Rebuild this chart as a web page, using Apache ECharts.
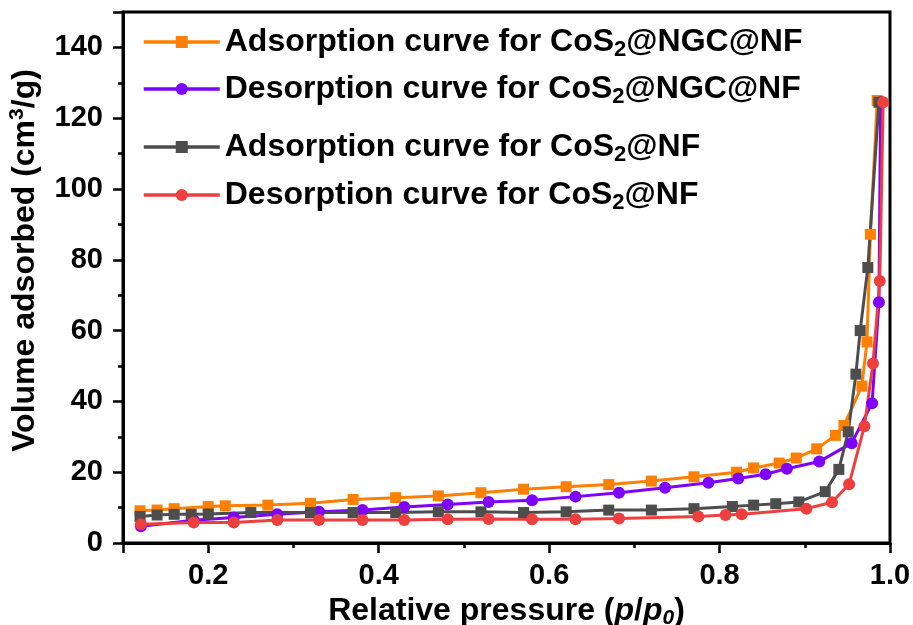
<!DOCTYPE html>
<html>
<head>
<meta charset="utf-8">
<script src="https://cdn.jsdelivr.net/npm/echarts@6/dist/echarts.min.js"></script>
<style>
  html, body { margin: 0; padding: 0; background: #fff; }
  #main { width: 913px; height: 625px; }
</style>
</head>
<body>
<div id="main"></div>
<script>
// series names
var names = [
    'Adsorption curve for CoS2@NGC@NF',
    'Desorption curve for CoS2@NGC@NF',
    'Adsorption curve for CoS2@NF',
    'Desorption curve for CoS2@NF'
];

// CoS2@NGC@NF adsorption
var ngcAdsX = [0.12, 0.14, 0.16, 0.20, 0.22, 0.27, 0.32, 0.37, 0.42, 0.47, 0.52, 0.57, 0.62, 0.67, 0.72, 0.77, 0.82, 0.84, 0.87, 0.89, 0.914, 0.936, 0.946, 0.967, 0.973, 0.977, 0.985];
var ngcAdsY = [9.1, 9.3, 9.7, 10.3, 10.5, 10.7, 11.2, 12.3, 12.8, 13.3, 14.2, 15.2, 15.9, 16.5, 17.5, 18.7, 20.0, 21.2, 22.6, 24.0, 26.6, 30.4, 33.2, 44.3, 56.8, 87.2, 125.0];

// CoS2@NGC@NF desorption
var ngcDesX = [0.989, 0.987, 0.979, 0.955, 0.917, 0.879, 0.854, 0.822, 0.787, 0.736, 0.682, 0.631, 0.58, 0.529, 0.481, 0.43, 0.381, 0.33, 0.281, 0.23, 0.183, 0.121];
var ngcDesY = [124.5, 68.0, 39.5, 28.2, 23.0, 21.0, 19.4, 18.2, 17.0, 15.6, 14.2, 13.1, 12.1, 11.6, 10.9, 10.2, 9.3, 8.8, 8.1, 7.2, 6.4, 4.7];

// CoS2@NF adsorption
var nfAdsX = [0.12, 0.14, 0.16, 0.18, 0.20, 0.25, 0.32, 0.37, 0.42, 0.47, 0.52, 0.57, 0.62, 0.67, 0.72, 0.77, 0.815, 0.84, 0.866, 0.893, 0.924, 0.940, 0.951, 0.960, 0.965, 0.974, 0.987];
var nfAdsY = [7.5, 7.9, 8.1, 8.1, 8.2, 8.6, 8.6, 8.6, 8.6, 8.8, 8.8, 8.6, 8.8, 9.3, 9.3, 9.7, 10.3, 10.7, 11.1, 11.6, 14.5, 20.8, 31.4, 47.7, 60.0, 77.8, 124.5];

// CoS2@NF desorption
var nfDesX = [0.992, 0.988, 0.980, 0.970, 0.952, 0.932, 0.902, 0.826, 0.807, 0.775, 0.682, 0.631, 0.58, 0.529, 0.481, 0.43, 0.381, 0.33, 0.281, 0.23, 0.183, 0.121];
var nfDesY = [124.5, 74.0, 50.7, 33.0, 16.6, 11.5, 9.7, 8.1, 7.9, 7.5, 6.9, 6.7, 6.7, 6.8, 6.7, 6.5, 6.5, 6.5, 6.5, 5.8, 5.8, 5.3];

var colors = ['#FF8000', '#7F00FF', '#4D4D4D', '#EE3F3F'];
var symbols = ['rect', 'circle', 'rect', 'circle'];
var xs = [ngcAdsX, ngcDesX, nfAdsX, nfDesX];
var ys = [ngcAdsY, ngcDesY, nfAdsY, nfDesY];

// legend labels with subscript 2
var legendText = {};
legendText[names[0]] = '{b|Adsorption curve for CoS}{s|2}{b|@NGC@NF}';
legendText[names[1]] = '{b|Desorption curve for CoS}{s|2}{b|@NGC@NF}';
legendText[names[2]] = '{b|Adsorption curve for CoS}{s|2}{b|@NF}';
legendText[names[3]] = '{b|Desorption curve for CoS}{s|2}{b|@NF}';

var font = "'Liberation Sans', Arial, sans-serif";
var legendTops = [26, 73, 131, 179];

var myChart = echarts.init(document.getElementById('main'));

var series = [];
var legends = [];
for (var i = 0; i < names.length; i++) {
    var pts = [];
    for (var j = 0; j < xs[i].length; j++) {
        pts.push([xs[i][j], ys[i][j]]);
    }
    series.push({
        name: names[i],
        type: 'line',
        data: pts,
        symbol: symbols[i],
        symbolSize: symbols[i] == 'rect' ? 11 : 12,
        showSymbol: true,
        itemStyle: { color: colors[i] },
        lineStyle: { color: colors[i], width: 3 },
        animation: false
    });
    legends.push({
        data: [names[i]],
        left: 142,
        top: legendTops[i],
        padding: 0,
        itemWidth: 76,
        itemHeight: 15,
        lineStyle: { width: 3.5 },
        formatter: function (n) { return legendText[n]; },
        textStyle: {
            fontFamily: font,
            rich: {
                b: { fontSize: 32, fontWeight: 'bold', fontFamily: font, color: '#000', lineHeight: 38 },
                s: { fontSize: 22, fontWeight: 'bold', fontFamily: font, color: '#000', lineHeight: 10, verticalAlign: 'bottom' }
            }
        }
    });
}

var option = {
    backgroundColor: '#fff',
    grid: {
        left: 123, right: 23, top: 12, bottom: 82,
        containLabel: false,
        outerBoundsMode: 'none',
        show: true, borderColor: '#000', borderWidth: 3
    },
    legend: legends,
    xAxis: {
        type: 'value',
        min: 0.1,
        max: 1.0,
        splitNumber: 5,
        name: '{n|Relative pressure (}{i|p}{n|/}{i|p}{si|0}{n|)}',
        nameLocation: 'middle',
        nameGap: 49,
        nameTextStyle: {
            fontFamily: font,
            rich: {
                n: { fontSize: 32, fontWeight: 'bold', fontFamily: font, color: '#000', lineHeight: 36 },
                i: { fontSize: 32, fontWeight: 'bold', fontStyle: 'italic', fontFamily: font, color: '#000', lineHeight: 36 },
                si: { fontSize: 21, fontWeight: 'bold', fontStyle: 'italic', fontFamily: font, color: '#000', lineHeight: 10, verticalAlign: 'bottom' }
            }
        },
        axisLine: { lineStyle: { color: '#000', width: 3 } },
        axisTick: { inside: false, length: 10, lineStyle: { color: '#000', width: 2.5 } },
        minorTick: { show: true, splitNumber: 2, length: 5, lineStyle: { color: '#000', width: 2.5 } },
        splitLine: { show: false },
        axisLabel: {
            margin: 18,
            fontFamily: font,
            fontSize: 29,
            fontWeight: 'bold',
            color: '#000',
            formatter: function (v) {
                if (Math.abs(v - 0.1) < 1e-6) return '';
                return v.toFixed(1);
            }
        }
    },
    yAxis: {
        type: 'value',
        min: 0,
        max: 150,
        interval: 20,
        name: '{n|Volume adsorbed (cm}{sup|3}{n|/g)}',
        nameLocation: 'middle',
        nameRotate: 90,
        nameGap: 80,
        nameTextStyle: {
            fontFamily: font,
            padding: [0, 0, 0, 34],
            rich: {
                n: { fontSize: 32, fontWeight: 'bold', fontFamily: font, color: '#000', lineHeight: 36 },
                sup: { fontSize: 21, fontWeight: 'bold', fontFamily: font, color: '#000', lineHeight: 16, verticalAlign: 'top' }
            }
        },
        axisLine: { lineStyle: { color: '#000', width: 3 } },
        axisTick: { inside: false, length: 10, lineStyle: { color: '#000', width: 2.5 } },
        minorTick: { show: true, splitNumber: 2, length: 5, lineStyle: { color: '#000', width: 2.5 } },
        splitLine: { show: false },
        axisLabel: {
            margin: 20,
            fontFamily: font,
            fontSize: 29,
            fontWeight: 'bold',
            color: '#000',
            formatter: function (v) {
                return v > 140 ? '' : v;
            }
        }
    },
    series: series
};

myChart.setOption(option);
</script>
</body>
</html>
